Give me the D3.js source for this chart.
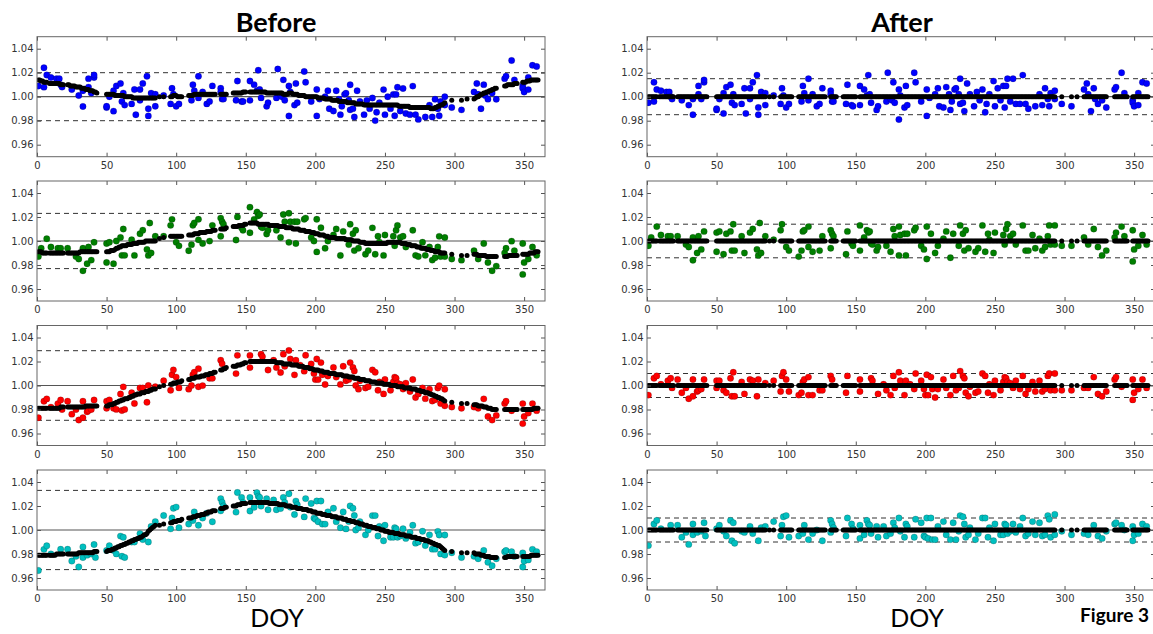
<!DOCTYPE html>
<html>
<head>
<meta charset="utf-8">
<script src="https://cdn.jsdelivr.net/npm/d3@7"></script>
<style>
  body { margin: 0; background: #fff; }
  svg { display: block; }
  .tick text { font-family: "DejaVu Sans", sans-serif; font-size: 10px; fill: #333; }
</style>
</head>
<body>
<svg id="fig" width="1153" height="634"></svg>
<script>
// days on which the model (black dots) is shown, as [first, last] runs
var modelRuns = [[1,7],[9,19],[22,43],[50,85],[88,88],[91,91],[96,104],[109,128],[132,136],
    [141,150],[153,293],[298,298],[305,305],[309,309],[314,330],[336,345],[349,360]];

// model minus 1, in thousandths, one sub-list per run above
var blueModel = [
    [14,14,13,13,12,12,12],
    [11,11,11,11,11,11,11,11,10,10,10],
    [10,10,9,9,9,9,8,8,8,8,7,7,7,6,6,6,5,5,5,4,4,3],
    [2,2,2,2,2,2,1,1,1,1,1,1,1,0,0,0,0,0,0,-1,-1,-1,-1,-1,-1,-1,-1,-1,-1,-1,-1,-1,-1,-1,-1,-1],
    [0],[0],
    [0,0,1,1,1,0,0,0,0],
    [1,1,1,1,2,2,2,2,2,2,2,2,2,2,2,2,2,2,2,2],
    [2,2,2,2,2],
    [3,3,3,3,3,3,3,4,4,4],
    [4,4,4,4,4,4,4,4, 4,4,4,4,3,3,3,3,3,3, 3,3,3,3,3,3,2,2,2,2, 3,3,3,2,2,2,2,1,1,1,
     1,1,0,0,0,0,0,0,0,0, 0,-1,-1,-1,-1,-1,-2,-2,-2,-2, -2,-3,-3,-3,-3,-3,-4,-4,-4,-4,
     -4,-4,-5,-5,-5,-5,-5,-5,-6,-6, -6,-6,-6,-6,-7,-7,-7,-7,-7,-7, -7,-7,-7,-7,-7,-7,-7,-7,-7,-7,
     -7,-7,-7,-7,-7,-7,-7,-7,-7,-8, -8,-8,-8,-8,-8,-8,-8,-9,-9,-9, -9,-9,-9,-9,-9,-9,-9,-9,-9,-9,
     -9,-9,-10,-10,-10,-9,-9,-8,-8,-7, -7,-6,-5],
    [-3],[-3],[-2],
    [-2,-1,0,0,1,2,2,3,3,4,4,5,5,6,6,7,7],
    [9,9,10,10,10,10,10,11,11,11],
    [12,12,12,13,13,13,14,14,14,14,14,14]
];
var greenModel = [
    [-9,-9,-9,-10,-10,-10,-10],
    [-10,-10,-10,-10,-10,-10,-10,-10,-10,-10,-10],
    [-10,-10,-10,-10,-10,-10,-10,-10,-10,-9,-9,-9,-9,-9,-9,-9,-9,-9,-9,-9,-9,-9],
    [-9,-9,-9,-8,-8,-8,-7,-6,-6,-5,-5,-4,-4,-4,-4,-3,-3,-3,-3,-2,-2,-2,-2,-1,-1,-1,-1,-1,0,0,0,0,0,0,0,0],
    [2],[3],
    [4,4,4,4,4,4,4,4,4],
    [5,5,5,5,6,6,6,6,7,7,7,7,7,8,8,8,8,9,9,9],
    [10,10,10,10,11],
    [12,12,12,12,13,13,13,13,14,14],
    [15,15,15,15,15,15,14,14, 14,14,14,14,14,14,13,13,13,13, 13,13,13,12,12,12,12,12,11,11,
     11,11,11,10,10,10,10,10,9,9, 9,9,8,8,8,8,7,7,7,6, 6,6,5,5,5,5,4,4,4,3,
     3,3,3,3,2,2,2,2,2,2, 2,1,1,1,1,1,0,0,0,0, 0,-1,-1,-1,-1,-2,-2,-2,-2,-2,
     -2,-2,-2,-2,-2,-2,-2,-2,-2,-2, -2,-1,-1,-1,-1,-1,-1,-1,-1,-1, -1,-2,-2,-2,-2,-3,-3,-3,-4,-4,
     -4,-4,-5,-5,-5,-6,-6,-6,-6,-7, -7,-7,-8,-8,-8,-9,-9,-9,-9,-10, -10,-10,-10],
    [-11],[-12],[-12],
    [-11,-11,-11,-12,-12,-12,-12,-12,-12,-13,-13,-13,-13,-13,-13,-13,-13],
    [-13,-13,-13,-12,-12,-12,-12,-12,-12,-12],
    [-11,-11,-11,-11,-11,-10,-10,-10,-10,-9,-9,-9]
];
var redModel = [
    [-19,-19,-19,-19,-19,-19,-19],
    [-19,-19,-19,-19,-19,-19,-19,-19,-18,-18,-18],
    [-18,-18,-18,-18,-18,-18,-18,-18,-18,-18,-18,-18,-18,-17,-17,-17,-17,-17,-17,-17,-17,-17],
    [-17,-17,-16,-16,-16,-15,-15,-14,-14,-13,-13,-12,-12,-11,-11,-11,-10,-10,-9,-9,-8,-8,-7,-7,-7,-6,-6,-6,-5,-5,-5,-4,-4,-3,-3,-3],
    [-1],[0],
    [1,1,2,2,2,3,3,3,4],
    [5,5,6,6,6,7,7,7,7,8,8,8,9,9,9,10,10,10,11,11],
    [13,13,14,14,15],
    [16,16,16,17,17,17,18,18,19,19],
    [20,20,20,20,20,20,20,20, 20,20,20,20,20,20,20,20,20,20, 20,19,19,19,19,19,18,18,18,18,
     18,18,17,17,17,17,17,16,16,16, 16,15,15,15,15,14,14,14,13,13, 13,13,12,12,12,11,11,11,11,10,
     10,10,10,10,9,9,9,9,9,8, 8,8,8,7,7,7,7,6,6,6, 6,5,5,5,5,4,4,4,4,3,
     3,3,3,2,2,2,2,2,1,1, 1,1,1,0,0,0,0,0,-1,-1, -1,-1,-1,-2,-2,-2,-2,-2,-3,-3,
     -3,-3,-4,-4,-4,-5,-5,-5,-6,-6, -6,-7,-7,-8,-8,-9,-9,-10,-10,-11, -11,-12,-13],
    [-14],[-15],[-15],
    [-16,-16,-16,-17,-17,-17,-17,-18,-18,-18,-19,-19,-19,-20,-20,-20,-20],
    [-20,-20,-20,-20,-20,-20,-20,-20,-20,-20],
    [-20,-20,-20,-20,-20,-20,-20,-20,-19,-19,-19,-19]
];
var cyanModel = [
    [-21,-21,-21,-21,-21,-21,-21],
    [-21,-21,-21,-21,-21,-20,-20,-20,-20,-20,-20],
    [-20,-20,-20,-20,-20,-20,-20,-20,-19,-19,-19,-19,-19,-19,-19,-19,-19,-19,-19,-18,-18,-18],
    [-18,-17,-17,-17,-16,-16,-15,-15,-14,-14,-13,-13,-12,-12,-11,-11,-10,-10,-9,-9,-8,-8,-7,-7,-6,-6,-5,-4,-4,-3,-1,0,1,2,3,4],
    [4],[5],
    [6,6,7,7,7,8,8,8,9],
    [10,10,10,11,11,11,12,12,12,13,13,13,14,14,15,15,15,16,16,16],
    [18,18,18,19,19],
    [20,20,20,21,21,21,22,22,22,22],
    [23,23,23,23,23,23,23,23, 23,23,23,23,23,23,22,22,22,22, 22,22,22,21,21,21,21,21,20,20,
     20,20,19,19,19,19,18,18,18,18, 17,17,17,17,16,16,16,15,15,15, 14,14,14,14,13,13,13,12,12,12,
     12,11,11,11,11,10,10,10,10,9, 9,9,8,8,8,7,7,7,6,6, 6,5,5,5,4,4,4,3,3,3,
     2,2,2,1,1,1,0,0,0,-1, -1,-1,-2,-2,-2,-2,-3,-3,-3,-3, -4,-4,-4,-4,-5,-5,-5,-5,-6,-6,
     -6,-6,-7,-7,-7,-8,-8,-8,-9,-9, -9,-10,-10,-11,-11,-12,-12,-13,-13,-14, -15,-16,-17],
    [-18],[-19],[-19],
    [-19,-20,-20,-20,-20,-21,-21,-21,-22,-22,-22,-22,-23,-23,-23,-23,-23],
    [-23,-23,-22,-22,-22,-22,-22,-22,-22,-22],
    [-22,-22,-22,-22,-22,-22,-21,-21,-21,-21,-21,-21]
];

// observed / model ("After" panels), [DOY, ratio]
var blueRatio = [[1,0.995],[5,1.012],[5,0.996],[7,1.006],[10,1.005],[14,1.004],[16,1.004],[17,1.000],[18,0.998],[25,0.997],[30,0.993],[33,0.985],[33,0.998],[37,1.009],[37,1.002],[39,0.998],[41,1.012],[41,1.014],[50,0.989],[50,0.990],[52,0.998],[55,0.986],[55,1.003],[57,1.008],[60,1.010],[61,0.995],[62,1.002],[63,0.993],[68,0.994],[70,1.007],[71,0.986],[74,1.007],[74,0.998],[76,1.012],[79,1.018],[80,0.991],[80,0.985],[82,1.004],[85,1.003],[85,0.993],[91,1.001],[96,0.994],[97,1.007],[98,1.001],[100,0.991],[102,0.994],[111,0.996],[112,1.009],[113,1.003],[116,1.015],[116,0.997],[119,1.002],[122,0.992],[124,0.994],[126,1.007],[132,1.005],[132,1.002],[133,0.996],[134,0.996],[143,0.994],[144,1.010],[147,0.993],[148,0.992],[153,0.993],[153,1.009],[156,1.006],[158,1.001],[159,1.018],[160,1.002],[161,0.995],[165,0.989],[166,0.992],[172,0.996],[173,1.020],[175,0.998],[176,0.997],[177,1.012],[178,0.995],[181,1.006],[181,0.981],[182,1.001],[185,0.991],[186,1.009],[187,0.993],[192,1.020],[193,1.012],[197,0.996],[201,1.006],[201,0.984],[203,0.999],[207,1.002],[209,1.007],[210,0.992],[213,0.991],[215,1.008],[217,1.002],[218,0.989],[219,0.996],[221,1.006],[222,1.007],[224,1.002],[225,1.015],[225,0.994],[227,0.995],[228,0.988],[230,1.011],[232,1.002],[235,0.992],[237,1.004],[239,0.997],[241,1.006],[243,0.987],[244,0.994],[246,1.002],[249,1.013],[250,0.992],[252,1.007],[254,0.997],[256,1.009],[257,0.991],[258,1.009],[259,1.015],[261,0.996],[263,1.015],[265,0.994],[268,0.994],[270,1.018],[272,0.994],[274,0.990],[279,0.992],[282,1.002],[284,0.993],[286,1.007],[288,0.998],[289,0.992],[290,1.003],[293,1.005],[293,0.998],[298,0.994],[305,0.992],[314,1.006],[316,1.011],[317,1.002],[319,0.988],[321,1.007],[322,0.998],[324,0.994],[327,0.997],[330,0.991],[336,1.006],[337,1.008],[341,1.020],[343,1.003],[349,0.997],[349,0.995],[350,0.992],[353,0.993],[353,1.003],[356,1.012],[359,1.011]];
var greenRatio = [[1,0.996],[3,1.003],[7,1.012],[10,1.005],[15,1.004],[17,1.004],[22,1.004],[28,0.997],[30,0.995],[33,0.984],[33,1.003],[36,0.990],[37,1.004],[39,0.993],[41,1.008],[50,0.991],[50,1.007],[52,1.008],[55,0.989],[57,1.006],[60,1.008],[61,0.992],[62,1.014],[63,0.992],[68,1.004],[70,0.990],[74,1.007],[76,1.010],[79,0.993],[80,0.988],[81,1.015],[82,0.990],[85,1.004],[91,1.001],[96,1.009],[97,1.014],[100,0.995],[102,0.992],[109,0.987],[111,0.992],[112,1.008],[113,1.009],[116,1.012],[116,0.995],[119,0.991],[124,0.992],[126,1.004],[132,1.009],[132,0.994],[133,1.006],[134,1.004],[143,0.989],[144,1.008],[147,0.998],[148,0.996],[153,1.013],[153,0.992],[156,1.003],[158,1.009],[159,1.007],[160,1.008],[161,0.998],[162,0.997],[165,0.992],[166,0.995],[172,0.996],[175,0.991],[177,1.010],[178,1.004],[181,1.012],[181,0.988],[182,1.005],[185,1.006],[186,0.988],[187,1.006],[192,1.009],[193,1.011],[197,0.996],[199,0.993],[201,1.012],[201,0.985],[204,1.006],[207,0.990],[209,0.996],[213,1.002],[215,1.008],[218,0.986],[220,1.006],[224,0.996],[225,1.013],[227,1.006],[228,0.992],[229,1.009],[231,0.994],[236,0.991],[238,0.994],[241,1.013],[243,0.991],[245,1.006],[246,1.001],[249,0.990],[250,1.007],[256,1.005],[257,0.997],[258,1.010],[259,1.014],[261,1.004],[263,1.006],[265,0.997],[270,1.013],[272,0.992],[274,0.992],[277,1.005],[279,0.994],[282,1.002],[284,0.992],[286,0.995],[288,1.004],[289,1.013],[290,0.997],[293,1.013],[293,0.997],[298,0.996],[305,0.996],[314,1.003],[317,0.997],[321,1.010],[324,0.995],[327,0.988],[330,0.992],[336,1.003],[337,1.007],[341,1.012],[343,1.004],[349,1.009],[349,0.983],[350,0.993],[353,0.996],[356,1.005],[359,0.997]];
var redRatio = [[1,0.992],[5,1.006],[7,1.008],[10,1.001],[15,1.004],[17,1.006],[18,0.998],[22,1.005],[25,0.994],[28,0.998],[30,0.989],[33,1.005],[33,0.991],[36,0.995],[37,0.996],[39,0.997],[41,1.005],[50,0.998],[50,1.004],[52,1.004],[55,0.996],[57,0.994],[60,1.006],[61,0.991],[62,1.011],[63,0.991],[68,1.003],[70,0.993],[74,1.005],[76,1.004],[79,0.991],[80,1.005],[85,1.002],[91,1.004],[96,0.995],[97,1.008],[98,1.011],[100,1.005],[102,0.995],[109,0.992],[111,0.994],[112,1.003],[113,1.005],[116,1.007],[116,0.992],[119,0.992],[124,0.996],[126,0.996],[132,1.008],[133,1.005],[143,0.994],[144,1.008],[153,1.005],[153,0.995],[161,1.006],[162,1.004],[166,0.993],[170,1.001],[172,0.996],[175,0.992],[177,1.008],[178,0.998],[181,1.011],[182,1.004],[185,0.992],[186,1.004],[189,1.001],[192,0.997],[193,1.010],[197,1.004],[199,0.997],[200,0.992],[201,1.009],[202,0.992],[204,1.007],[205,0.997],[207,0.990],[209,0.997],[213,1.005],[215,0.998],[218,0.992],[220,1.008],[222,0.996],[224,0.998],[225,1.012],[227,1.008],[228,1.006],[229,0.994],[231,0.991],[232,0.999],[236,0.994],[238,0.995],[241,1.010],[243,1.008],[245,0.994],[246,1.001],[249,0.992],[250,1.004],[254,0.996],[256,1.003],[257,1.007],[258,1.006],[259,1.003],[261,1.002],[263,0.998],[265,1.004],[268,0.997],[270,1.008],[272,0.993],[274,0.997],[277,1.003],[279,0.995],[282,1.004],[284,0.995],[286,0.997],[288,1.008],[289,1.010],[290,0.996],[293,1.010],[293,0.996],[298,0.996],[305,0.996],[314,0.998],[317,0.998],[321,1.007],[324,0.993],[327,0.991],[330,0.995],[336,1.005],[337,1.007],[341,0.999],[349,1.005],[349,0.988],[350,0.994],[353,0.997],[356,1.005],[359,0.998]];
var cyanRatio = [[1,0.987],[5,1.005],[7,1.008],[10,1.001],[17,1.004],[22,1.004],[25,0.994],[28,0.998],[30,0.988],[33,1.005],[33,0.996],[36,0.998],[39,0.999],[41,1.006],[42,0.995],[50,1.001],[52,1.004],[55,0.999],[57,0.995],[60,1.008],[61,0.991],[62,1.006],[63,0.989],[68,0.999],[70,0.998],[74,1.003],[76,0.997],[80,0.991],[82,1.002],[85,1.003],[91,1.007],[96,0.995],[97,1.004],[98,1.011],[100,1.012],[102,0.994],[109,0.995],[112,0.997],[113,1.004],[116,0.992],[119,0.997],[122,1.000],[126,0.991],[132,1.008],[132,0.998],[133,1.005],[134,1.002],[143,0.995],[144,1.010],[147,1.005],[148,1.001],[153,0.993],[153,1.004],[156,0.996],[158,1.008],[159,1.005],[160,1.004],[161,0.997],[165,1.003],[166,0.994],[170,1.003],[172,0.995],[175,0.997],[177,1.006],[178,1.002],[181,1.010],[182,0.999],[185,0.994],[186,1.005],[187,1.003],[192,0.994],[193,1.009],[197,1.006],[199,0.995],[200,0.994],[201,1.010],[202,0.993],[204,1.010],[205,0.992],[207,0.992],[209,1.003],[213,1.007],[215,0.996],[218,0.992],[220,1.006],[222,0.992],[224,0.999],[225,1.012],[227,1.011],[228,1.005],[229,0.994],[231,0.996],[232,1.002],[236,0.992],[238,0.997],[241,1.010],[243,1.010],[245,0.994],[246,1.002],[249,0.991],[250,1.005],[254,0.996],[256,0.996],[257,1.005],[258,1.004],[259,0.997],[261,0.999],[263,1.005],[265,0.998],[268,1.003],[270,1.010],[272,0.995],[274,0.997],[277,1.007],[279,0.996],[282,1.006],[284,0.995],[286,0.996],[288,1.012],[289,1.009],[290,0.994],[293,1.013],[293,0.996],[298,0.999],[305,0.996],[314,0.997],[317,0.996],[321,1.004],[324,0.995],[327,0.993],[330,0.999],[336,1.005],[337,1.006],[341,1.004],[343,1.000],[349,1.003],[349,0.991],[350,0.996],[353,0.997],[356,1.005],[359,1.003]];

// half-width of the dashed band for each row
var beforeLimits = [0.020, 0.023, 0.029, 0.033];
var afterLimits = [0.015, 0.014, 0.010, 0.010];

var xTicks = [0, 50, 100, 150, 200, 250, 300, 350];
var yTicks = [0.96, 0.98, 1.00, 1.02, 1.04];

var models = [blueModel, greenModel, redModel, cyanModel];
var ratios = [blueRatio, greenRatio, redRatio, cyanRatio];
var colors = ["#0000ff", "#007f00", "#ff0000", "#00bfbf"];

var svg = d3.select("#fig");
var colX = [37, 647], rowY = [36.7, 181, 325.5, 470];
var plotW = 508, plotH = 120;

var x = d3.scaleLinear().domain([0, 365]).range([0, plotW]);
var y = d3.scaleLinear().domain([0.95, 1.05]).range([plotH, 0]);

svg.append("clipPath").attr("id", "plotclip")
    .append("rect").attr("width", plotW).attr("height", plotH);

function modelPoints(model) {
    var pts = [];
    modelRuns.forEach(function (run, r) {
        model[r].forEach(function (v, i) {
            pts.push([run[0] + i, 1 + v / 1000]);
        });
    });
    return pts;
}

function drawPanel(gx, gy, color, colored, black, limit) {
    var g = svg.append("g").attr("transform", "translate(" + gx + "," + gy + ")");
    var inner = g.append("g").attr("clip-path", "url(#plotclip)");

    [1 - limit, 1 + limit].forEach(function (v) {
        inner.append("line")
            .attr("x1", 0).attr("x2", plotW)
            .attr("y1", y(v)).attr("y2", y(v))
            .attr("stroke", "#333").attr("stroke-width", 1)
            .attr("stroke-dasharray", "5,4");
    });
    inner.append("line")
        .attr("x1", 0).attr("x2", plotW)
        .attr("y1", y(1)).attr("y2", y(1))
        .attr("stroke", "#555").attr("stroke-width", 1.2);

    inner.selectAll("circle.obs").data(colored).enter()
        .append("circle").attr("class", "obs")
        .attr("cx", function (d) { return x(d[0]); })
        .attr("cy", function (d) { return y(d[1]); })
        .attr("r", 3.2)
        .attr("fill", color)
        .attr("stroke", "rgba(0,0,0,0.35)")
        .attr("stroke-width", 0.5);

    inner.selectAll("circle.mod").data(black).enter()
        .append("circle").attr("class", "mod")
        .attr("cx", function (d) { return x(d[0]); })
        .attr("cy", function (d) { return y(d[1]); })
        .attr("r", 2.5)
        .attr("fill", "#000");

    g.append("g")
        .attr("transform", "translate(0," + plotH + ")")
        .call(d3.axisBottom(x).tickValues(xTicks).tickSize(-4).tickPadding(5).tickFormat(d3.format("d")));
    g.append("g")
        .call(d3.axisLeft(y).tickValues(yTicks).tickSize(-4).tickPadding(3.5).tickFormat(d3.format(".2f")));
    g.append("g")
        .call(d3.axisTop(x).tickValues(xTicks).tickSize(-4).tickFormat(""));
    g.append("g")
        .attr("transform", "translate(" + plotW + ",0)")
        .call(d3.axisRight(y).tickValues(yTicks).tickSize(-4).tickFormat(""));
    g.selectAll(".domain").remove();
    g.selectAll(".tick line").attr("stroke", "#555");

    g.append("rect")
        .attr("width", plotW).attr("height", plotH)
        .attr("fill", "none").attr("stroke", "#666").attr("stroke-width", 1);
}

models.forEach(function (model, row) {
    var black = modelPoints(model);
    var lookup = {};
    black.forEach(function (p) { lookup[p[0]] = p[1]; });

    // Before: observations = model * ratio
    var before = ratios[row].map(function (d) { return [d[0], lookup[d[0]] * d[1]]; });
    drawPanel(colX[0], rowY[row], colors[row], before, black, beforeLimits[row]);

    // After: observations divided by the model, model itself sits at 1
    var flat = black.map(function (p) { return [p[0], 1]; });
    drawPanel(colX[1], rowY[row], colors[row], ratios[row], flat, afterLimits[row]);
});

svg.append("text").attr("x", 276).attr("y", 32)
    .attr("text-anchor", "middle")
    .style("font-family", "Lato, 'Open Sans', sans-serif").style("font-weight", "bold").style("font-size", "27px")
    .text("Before");
svg.append("text").attr("x", 902).attr("y", 32)
    .attr("text-anchor", "middle")
    .style("font-family", "Lato, 'Open Sans', sans-serif").style("font-weight", "bold").style("font-size", "27px")
    .text("After");

[277, 917].forEach(function (cx) {
    svg.append("text").attr("x", cx).attr("y", 627)
        .attr("text-anchor", "middle")
        .style("font-family", "Lato, 'Open Sans', sans-serif").style("font-size", "25px")
        .text("DOY");
});

svg.append("text").attr("x", 1149).attr("y", 622)
    .attr("text-anchor", "end")
    .style("font-family", "Lato, 'Open Sans', sans-serif").style("font-weight", "bold").style("font-size", "19px")
    .text("Figure 3");
</script>
</body>
</html>
